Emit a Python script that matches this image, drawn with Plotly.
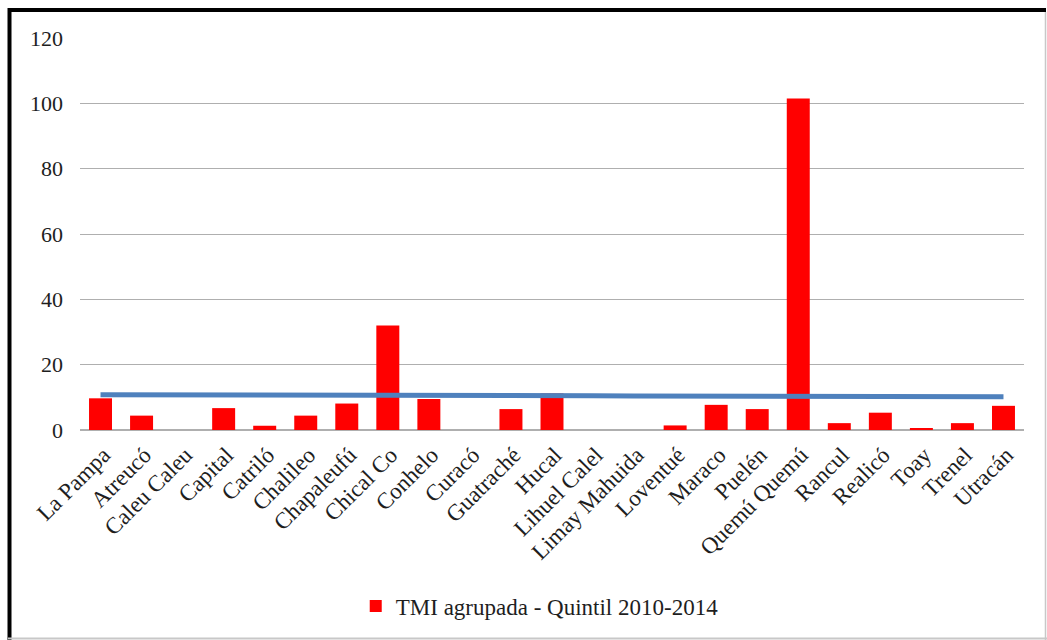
import plotly.graph_objects as go

# Departamentos de La Pampa
departamentos = [
    "La Pampa", "Atreucó", "Caleu Caleu", "Capital", "Catriló", "Chalileo",
    "Chapaleufú", "Chical Co", "Conhelo", "Curacó", "Guatraché", "Hucal",
    "Lihuel Calel", "Limay Mahuida", "Loventué", "Maraco", "Puelén",
    "Quemú Quemú", "Rancul", "Realicó", "Toay", "Trenel", "Utracán",
]

# TMI agrupada por quintil 2010-2014
tmi_quintil = [
    9.7, 4.4, 0.0, 6.7, 1.3, 4.4,
    8.1, 32.0, 9.5, 0.0, 6.4, 11.2,
    0.0, 0.0, 1.4, 7.7, 6.4,
    101.5, 2.1, 5.3, 0.5, 2.1, 7.4,
]

# Referencia provincial
referencia = [
    10.8, 10.8, 10.8, 10.7, 10.7, 10.7,
    10.6, 10.6, 10.6, 10.6, 10.5, 10.5,
    10.5, 10.4, 10.4, 10.4, 10.3,
    10.3, 10.3, 10.2, 10.2, 10.2, 10.2,
]

y_ticks = [0, 20, 40, 60, 80, 100, 120]

idx = list(range(len(departamentos)))
FONT = "Liberation Serif, Times New Roman, serif"
TXT = "#1E1E1E"

fig = go.Figure()
fig.add_trace(go.Bar(
    x=idx, y=tmi_quintil, width=0.56,
    marker=dict(color="#FF0000", line=dict(width=0)),
    name="TMI agrupada - Quintil 2010-2014",
))
fig.add_trace(go.Scatter(
    x=idx, y=referencia, mode="lines",
    line=dict(color="#4F81BD", width=5),
    showlegend=False, hoverinfo="skip",
))

ML, MR, MT, MB = 80, 23, 38, 210
W, H = 1047, 640
PW, PH = W - ML - MR, H - MT - MB


def px_x(px):
    return (px - ML) / PW


def px_y(py):
    return (H - MB - py) / PH


shapes = [
    # marco exterior
    dict(type="line", xref="paper", yref="paper", x0=px_x(8), x1=px_x(1046),
         y0=px_y(10), y1=px_y(10), line=dict(color="#000000", width=4)),
    dict(type="line", xref="paper", yref="paper", x0=px_x(9.5), x1=px_x(9.5),
         y0=px_y(8), y1=px_y(640), line=dict(color="#000000", width=4)),
    dict(type="line", xref="paper", yref="paper", x0=px_x(1045.5), x1=px_x(1045.5),
         y0=px_y(12), y1=px_y(640), line=dict(color="#C8C8C8", width=1.5)),
    dict(type="line", xref="paper", yref="paper", x0=px_x(8), x1=px_x(1047),
         y0=px_y(638.5), y1=px_y(638.5), line=dict(color="#C8C8C8", width=2)),
]

fig.update_layout(
    width=W, height=H,
    margin=dict(l=ML, r=MR, t=MT, b=MB),
    paper_bgcolor="white", plot_bgcolor="white",
    font=dict(family=FONT, size=22, color=TXT),
    bargap=0.44,
    showlegend=True,
    legend=dict(orientation="h", x=0.487, xanchor="center", y=px_y(606),
                yanchor="middle", font=dict(size=23, family=FONT, color=TXT),
                itemwidth=30, traceorder="normal"),
    xaxis=dict(
        range=[-0.5, len(departamentos) - 0.5],
        tickmode="array", tickvals=idx, ticktext=departamentos,
        tickangle=-45, showgrid=False, zeroline=False,
        showline=False, ticks="", ticklabelstandoff=6, ticklabelshift=3,
        tickfont=dict(size=23, family=FONT, color=TXT),
    ),
    yaxis=dict(
        range=[0, 120], tickmode="array", tickvals=y_ticks,
        showgrid=True, gridcolor="#AFAFAF", gridwidth=1.2,
        zeroline=True, zerolinecolor="#AFAFAF", zerolinewidth=1.5,
        showline=False, ticks="", ticklabelstandoff=16,
        tickfont=dict(size=22, family=FONT, color=TXT),
    ),
    shapes=shapes,
)

fig.write_html("out.html")
